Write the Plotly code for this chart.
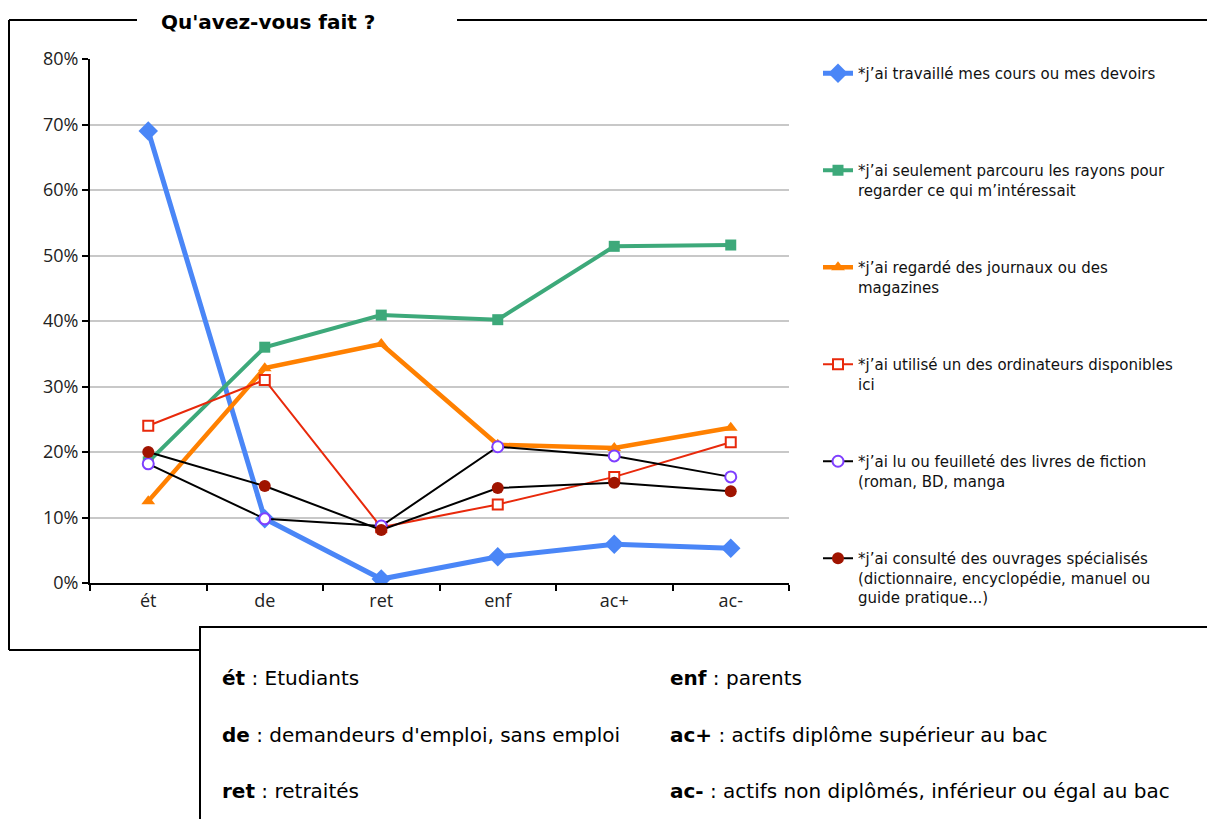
import plotly.graph_objects as go

# the page has an 8px body margin, so the figure is drawn 8px in from the corner
OFF = 8
W, H = 1215 - OFF, 819 - OFF
L, R, T, B = 90, 789, 59, 583  # plot area, in window pixels

categories = ['ét', 'de', 'ret', 'enf', 'ac+', 'ac-']

travaille = [69.0, 9.8, 0.6, 4.0, 5.9, 5.3]
parcouru = [18.5, 36.0, 40.9, 40.2, 51.4, 51.6]
journaux = [12.5, 32.8, 36.5, 21.1, 20.6, 23.7]
ordinateurs = [24.0, 31.0, 8.5, 12.0, 16.2, 21.5]
fiction = [18.2, 9.8, 8.7, 20.8, 19.4, 16.2]
ouvrages = [20.0, 14.8, 8.1, 14.5, 15.3, 14.0]

y_ticks = [0, 10, 20, 30, 40, 50, 60, 70, 80]
y_ticktext = [f'{v}%' for v in y_ticks]

legend_labels = [
    "*j’ai travaillé mes cours ou mes devoirs<br>\u00a0",
    "*j’ai seulement parcouru les rayons pour<br>regarder ce qui m’intéressait",
    "*j’ai regardé des journaux ou des<br>magazines",
    "*j’ai utilisé un des ordinateurs disponibles<br>ici",
    "*j’ai lu ou feuilleté des livres de fiction<br>(roman, BD, manga",
    "*j’ai consulté des ouvrages spécialisés<br>(dictionnaire, encyclopédie, manuel ou<br>guide pratique...)",
]

codes = ['ét', 'de', 'ret', 'enf', 'ac+', 'ac-']
code_texts = [
    'Etudiants',
    "demandeurs d'emploi, sans emploi",
    'retraités',
    'parents',
    'actifs diplôme supérieur au bac',
    'actifs non diplômés, inférieur ou égal au bac',
]

FONT = "DejaVu Sans"


def px(x):
    return (x - L) / (R - L)


def py(y):
    return (B - y) / (B - T)


fig = go.Figure()

styles = [
    (travaille, dict(color='#4a86f7', width=5), dict(symbol='diamond', size=15, color='#4a86f7')),
    (parcouru, dict(color='#3da97a', width=4), dict(symbol='square', size=11, color='#3da97a')),
    (journaux, dict(color='#ff8000', width=4.5), dict(symbol='triangle-up', size=12, color='#ff8000')),
    (ordinateurs, dict(color='#e8290b', width=2),
     dict(symbol='square', size=10, color='white', line=dict(color='#e8290b', width=2))),
    (fiction, dict(color='black', width=2),
     dict(symbol='circle', size=11, color='white', line=dict(color='#7f3fff', width=2))),
    (ouvrages, dict(color='black', width=2), dict(symbol='circle', size=12, color='#a01400')),
]

for i, (vals, line, marker) in enumerate(styles):
    fig.add_trace(go.Scatter(
        x=categories,
        y=vals,
        mode='lines+markers',
        name=legend_labels[i],
        legendgroup=str(i),
        line=line,
        marker=marker,
        hovertemplate='%{x}: %{y}%<extra></extra>',
    ))

shapes = [
    # outer frame with a gap for the title
    dict(type='line', x0=px(9), x1=px(137), y0=py(20), y1=py(20)),
    dict(type='line', x0=px(457), x1=px(1230), y0=py(20), y1=py(20)),
    dict(type='line', x0=px(9), x1=px(9), y0=py(20), y1=py(650)),
    dict(type='line', x0=px(9), x1=px(200), y0=py(650), y1=py(650)),
    # lower box
    dict(type='rect', x0=px(200), x1=px(1235), y0=py(627), y1=py(840), fillcolor='white'),
]
for s in shapes:
    s.update(xref='paper', yref='paper', line=dict(color='black', width=2), layer='above')

annotations = [dict(
    text='<b>Qu\'avez-vous fait ?</b>', x=px(268), y=py(22), xref='paper', yref='paper',
    showarrow=False, xanchor='center', yanchor='middle',
    font=dict(family=FONT, size=20, color='black'),
)]
col_x = [220, 220, 220, 668, 668, 668]
row_y = [678, 735, 791, 678, 735, 791]
for c, t, x, y in zip(codes, code_texts, col_x, row_y):
    annotations.append(dict(
        text=f'<b>{c}</b> : {t}', x=px(x), y=py(y), xref='paper', yref='paper',
        showarrow=False, xanchor='left', yanchor='middle',
        font=dict(family=FONT, size=20, color='black'),
    ))

fig.update_layout(
    width=W,
    height=H,
    margin=dict(l=L - OFF, r=W - (R - OFF), t=T - OFF, b=H - (B - OFF)),
    paper_bgcolor='white',
    plot_bgcolor='white',
    font=dict(family=FONT, size=15, color='#222222'),
    showlegend=True,
    legend=dict(
        x=px(818), y=py(57), xanchor='left', yanchor='top',
        valign='top', tracegroupgap=55, traceorder='grouped', maxheight=760,
        font=dict(family=FONT, size=15, color='#111111'),
        bgcolor='rgba(0,0,0,0)',
    ),
    xaxis=dict(
        type='category', range=[-0.5, 5.5], showline=True, linecolor='black', linewidth=2,
        ticks='outside', tickson='boundaries', ticklen=6, tickwidth=2, tickcolor='black',
        showgrid=False, tickfont=dict(family="Open Sans", size=18, color='#222222'),
    ),
    yaxis=dict(
        range=[0, 80], tickvals=y_ticks, ticktext=y_ticktext, showline=True, linecolor='black',
        linewidth=2, ticks='outside', ticklen=6, tickwidth=2, tickcolor='black',
        showgrid=True, gridcolor='#c8c8c8', gridwidth=2, zeroline=False,
        tickfont=dict(family="Open Sans", size=18, color='#222222'),
    ),
    shapes=shapes,
    annotations=annotations,
)

fig.write_html("out.html")
